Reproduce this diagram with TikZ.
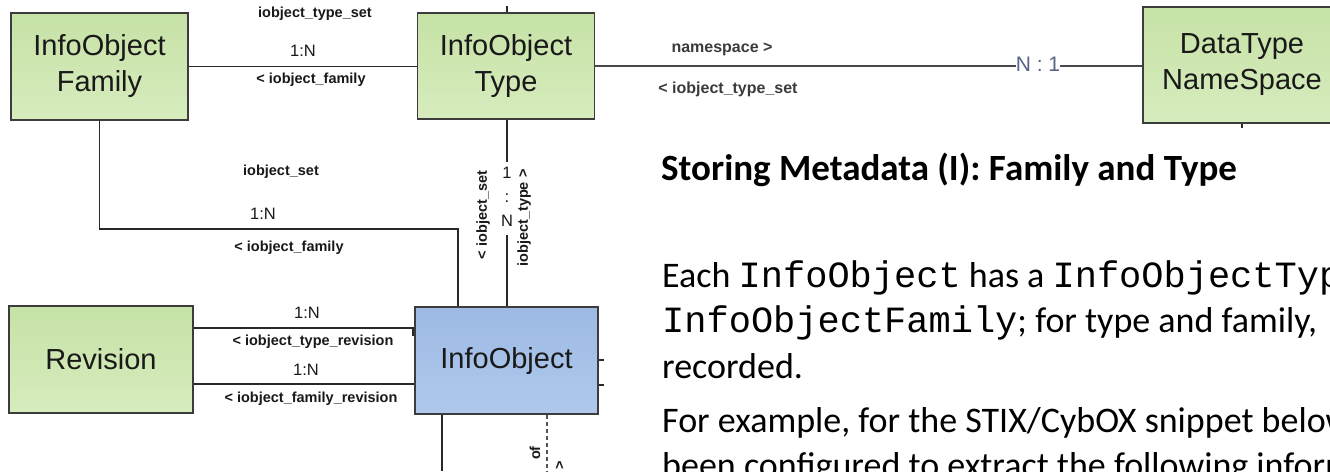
\documentclass[tikz,border=0pt]{standalone}
\usepackage{fontspec}
\setmainfont{Liberation Sans}
\newfontfamily\slidefont{Carlito}
\newfontfamily\codefont{Liberation Mono}
\newcommand\codetext[1]{{\codefont\fontsize{37}{44}\selectfont #1}}
\definecolor{gtop}{RGB}{198,226,166}
\definecolor{gbot}{RGB}{215,236,190}
\definecolor{btop}{RGB}{157,186,228}
\definecolor{bbot}{RGB}{175,201,237}
\definecolor{edge}{RGB}{60,60,60}
\definecolor{wire}{RGB}{40,40,40}
\definecolor{ink}{RGB}{25,25,25}
\definecolor{cardblue}{RGB}{85,100,135}
\tikzset{
  ent/.style={draw=edge, line width=1.5pt, top color=gtop, bottom color=gbot,
    inner sep=0pt, align=center, text=ink, font=\fontsize{29}{36}\selectfont},
  entblue/.style={ent, top color=btop, bottom color=bbot},
  rel/.style={font=\bfseries\fontsize{14.5}{16}\selectfont, text=ink, inner sep=0pt},
  relbig/.style={font=\bfseries\fontsize{16}{18}\selectfont, text=ink!85, inner sep=0pt},
  card/.style={font=\fontsize{16.5}{18}\selectfont, text=ink, inner sep=0pt},
  conn/.style={draw=wire, line width=1.4pt},
  slide/.style={anchor=base west, inner sep=0pt, text=black,
    font=\slidefont\fontsize{36}{44}\selectfont},
}
\begin{document}
\begin{tikzpicture}[x=1pt,y=-1pt]
\useasboundingbox (0,0) rectangle (1330,471);
\clip (0,0) rectangle (1330,471);

% entities
\node[ent, minimum width=177pt, minimum height=107pt] (fam) at (99.5,66.5) {InfoObject\\Family};
\node[ent, minimum width=177pt, minimum height=106pt] (typ) at (506,66) {InfoObject\\Type};
\node[entblue, minimum width=183pt, minimum height=107pt] (io) at (506.5,360.5) {InfoObject};
\node[ent, minimum width=184pt, minimum height=107pt] (rev) at (101,359.5) {Revision};
\node[ent, minimum width=198pt, minimum height=116pt] (ns) at (1242,65) {DataType\\NameSpace};

% family -- type
\draw[conn] (fam.east) -- (fam.east -| typ.west);
\node[rel] (l1) at (315,14) {iobject\_type\_set};
\node[card] (c1) at (303,51) {1:N};
\node[rel] (l2) at (311,79.5) {< iobject\_family};

% family -- infoobject
\coordinate (fbend) at (458,229);
\draw[conn] (fam.south) |- (fbend) -- (fbend |- io.north);
\node[rel] (l3) at (281,172) {iobject\_set};
\node[card] (c2) at (263,214) {1:N};
\node[rel] (l4) at (289,248) {< iobject\_family};

% type -- infoobject
\coordinate (tgapA) at (507,162);
\coordinate (tgapB) at (507,235);
\draw[conn] (tgapA |- typ.south) -- (tgapA);
\draw[conn] (tgapB) -- (tgapB |- io.north);
\node[card] (c3a) at (507,173) {1};
\node[card] (c3b) at (507,198) {:};
\node[card] (c3c) at (507,221) {N};
\node[rel, rotate=90] (l5) at (483,215) {< iobject\_set};
\node[rel, rotate=90] (l6) at (524,218) {iobject\_type >};
\coordinate (ttop) at (507,6);
\draw[conn] (ttop) -- (ttop |- typ.north);

% revision -- infoobject
\draw[conn] ([yshift=31.5pt]rev.east) -- ([yshift=31.5pt]rev.east -| io.west);
\draw[conn] ([yshift=-24.5pt]rev.east) -- ([yshift=-24.5pt]rev.east -| io.west);
\coordinate (rtick) at (413,328);
\draw[wire, line width=2.6pt] (rtick) -- ++(0,8);
\node[card] (c4) at (307,313) {1:N};
\node[rel] (l7) at (313,342) {< iobject\_type\_revision};
\node[card] (c5) at (306,370) {1:N};
\node[rel] (l8) at (311,399) {< iobject\_family\_revision};

% stubs on the right side of InfoObject
\coordinate (stA) at (604,360);
\coordinate (stB) at (604,385);
\draw[conn] (stA -| io.east) -- (stA);
\draw[conn] (stB -| io.east) -- (stB);

% lines leaving InfoObject downwards
\coordinate (dnA) at (442,471);
\coordinate (dnB) at (547,471);
\draw[conn] (dnA |- io.south) -- (dnA);
\draw[draw=wire!80, line width=1.4pt, dash pattern=on 4pt off 3pt] (dnB |- io.south) -- (dnB);
\node[rel, rotate=90, anchor=east] (l9) at (535,446) {of};
\node[rel, rotate=90] (l10) at (560,465) {>};

% type -- namespace
\node[font=\fontsize{21}{24}\selectfont, text=cardblue, inner sep=0pt] (n1) at (1038,64) {N : 1};
\draw[draw=wire!85, line width=1.8pt] (typ.east) -- (typ.east -| n1.west);
\draw[draw=wire!85, line width=1.8pt] (n1.east |- typ.east) -- (ns.west |- typ.east);
\node[relbig] (l11) at (722,49) {namespace >};
\node[relbig] (l12) at (728,89) {< iobject\_type\_set};
\coordinate (nsb) at (1242,128);
\draw[conn] (nsb |- ns.south) -- (nsb);

% slide text
\node[anchor=base west, inner sep=0pt, font=\slidefont\bfseries\fontsize{37}{44}\selectfont] (title) at (661,180)
  {Storing Metadata (I): Family and Type};
\node[slide] (t1) at (662,287) {Each \codetext{InfoObject} has a \codetext{InfoObjectType}};
\node[slide] (t2) at (662,332) {\codetext{InfoObjectFamily}; for type and family,};
\node[slide] (t3) at (662,378) {recorded.};
\node[slide] (t4) at (662,432) {For example, for the STIX/CybOX snippet below};
\node[slide] (t5) at (662,477) {been configured to extract the following information};
\end{tikzpicture}
\end{document}
